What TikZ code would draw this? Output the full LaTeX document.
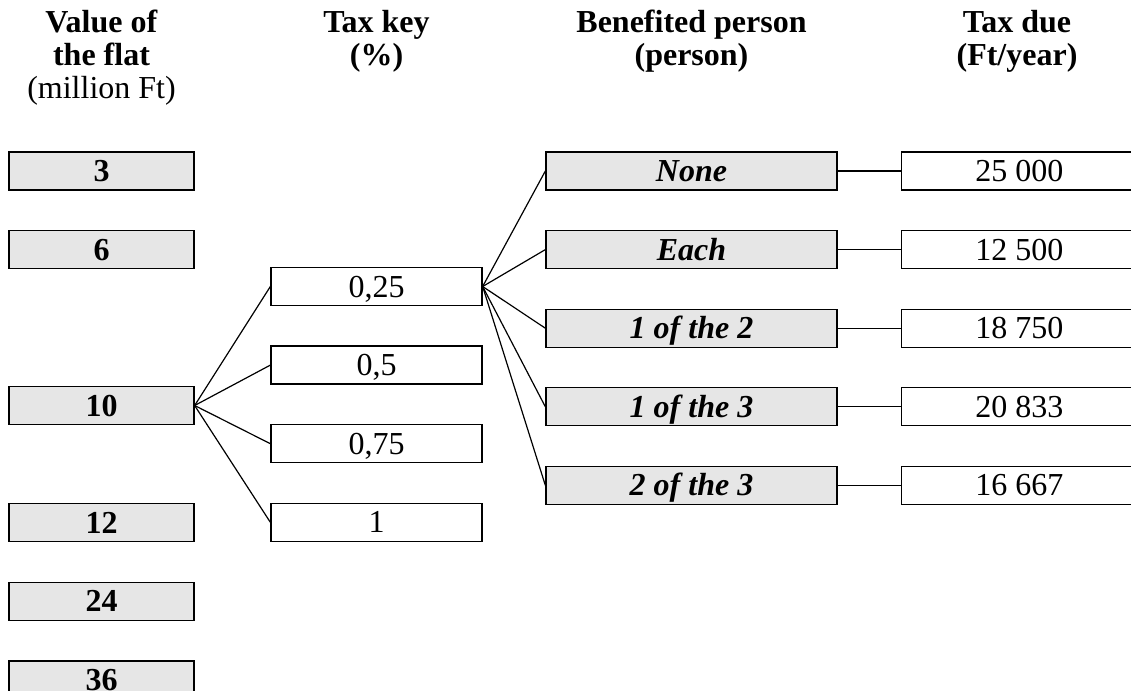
\documentclass[tikz,border=0pt]{standalone}
\usepackage{fontspec}
\setmainfont{Liberation Serif}
\usetikzlibrary{positioning}
\definecolor{grisc}{HTML}{E6E6E6}

\begin{document}
\begin{tikzpicture}[x=1pt,y=-1pt,
  caja/.style={draw=black,line width=1.3pt,minimum height=38pt,inner sep=0pt,
               text height=25pt,text depth=4pt,font=\fontsize{32}{33}\selectfont},
  valor/.style={caja,fill=grisc,minimum width=185pt,font=\fontsize{32}{33}\selectfont\bfseries},
  clave/.style={caja,fill=white,minimum width=211pt},
  persona/.style={caja,fill=grisc,minimum width=291pt,font=\fontsize{32}{33}\selectfont\bfseries\itshape},
  impuesto/.style={caja,fill=white,minimum width=236pt},
  titulo/.style={anchor=north,align=center,inner sep=0pt,font=\fontsize{32}{33}\selectfont},
  enlace/.style={line width=1.2pt,color=black}]
  \useasboundingbox (0,0) rectangle (1131,690);
  % column headers
  \node[titulo] (t1) at (101.5,10) {\textbf{Value of}\\\textbf{the flat}\\(million Ft)};
  \node[titulo] (t2) at (376.5,10) {\textbf{Tax key}\\\textbf{(\%)}};
  \node[titulo] (t3) at (691.5,10) {\textbf{Benefited person}\\\textbf{(person)}};
  \node[titulo] (t4) at (1017,10) {\textbf{Tax due}\\\textbf{(Ft/year)}};
  % value of the flat
  \node[valor] (v1) at (101.5,171) {3};
  \node[valor,below=39.3pt of v1] (v2) {6};
  \node[valor,below=116.6pt of v2] (v3) {10};
  \node[valor,below=78pt of v3] (v4) {12};
  \node[valor,below=39.3pt of v4] (v5) {24};
  \node[valor,below=39.3pt of v5] (v6) {36};
  % tax key
  \node[clave] (k1) at (376.5,286.5) {0,25};
  \node[clave,below=39.3pt of k1] (k2) {0,5};
  \node[clave,below=39.3pt of k2] (k3) {0,75};
  \node[clave,below=39.3pt of k3] (k4) {1};
  % benefited person
  \node[persona] (b1) at (691.5,171) {None};
  \node[persona,below=39.3pt of b1] (b2) {Each};
  \node[persona,below=39.3pt of b2] (b3) {1 of the 2};
  \node[persona,below=39.3pt of b3] (b4) {1 of the 3};
  \node[persona,below=39.3pt of b4] (b5) {2 of the 3};
  % tax due
  \node[impuesto,right=63pt of b1] (d1) {25 000};
  \node[impuesto,right=63pt of b2] (d2) {12 500};
  \node[impuesto,right=63pt of b3] (d3) {18 750};
  \node[impuesto,right=63pt of b4] (d4) {20 833};
  \node[impuesto,right=63pt of b5] (d5) {16 667};
  % connectors
  \foreach \k in {k1,k2,k3,k4} \draw[enlace] (v3.east) -- (\k.west);
  \foreach \b in {b1,b2,b3,b4,b5} \draw[enlace] (k1.east) -- (\b.west);
  \foreach \i in {1,...,5} \draw[enlace] (b\i.east) -- (d\i.west);
\end{tikzpicture}
\end{document}
